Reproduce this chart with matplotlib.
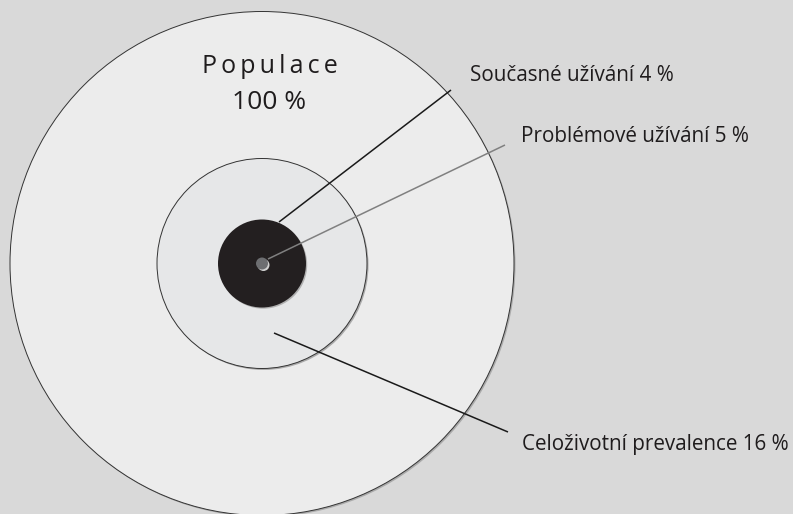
import matplotlib
matplotlib.use("Agg")
import matplotlib.pyplot as plt
from matplotlib.patches import Circle

plt.rcParams['font.family'] = ['Open Sans', 'DejaVu Sans']

# Data
categories = ["Populace", "Celoživotní prevalence", "Současné užívání", "Problémové užívání"]
values = [100, 16, 4, 5]
labels = [f"{c} {v} %" for c, v in zip(categories, values)]

W, H = 793, 514
fig = plt.figure(figsize=(W / 100, H / 100), dpi=100)
fig.patch.set_facecolor('#d9d9d9')
ax = fig.add_axes([0, 0, 1, 1])
ax.set_xlim(0, W)
ax.set_ylim(H, 0)
ax.set_aspect('equal')
ax.axis('off')

cx, cy = 262, 263.5

def circ(r, fc, ec='none', lw=0, z=1, dx=0, dy=0):
    ax.add_patch(Circle((cx + dx, cy + dy), r, facecolor=fc, edgecolor=ec, lw=lw, zorder=z))

# Big circle (population)
circ(252, '#aaaaaa', z=1, dx=1.5, dy=1.5)
circ(252, '#ececec', ec='#333333', lw=0.7, z=2)
# Lifetime prevalence
circ(105, '#aaaaaa', z=3, dx=1.5, dy=1.5)
circ(105, '#e6e7e8', ec='#333333', lw=0.7, z=4)
# Current use
circ(44, '#b0b0b0', z=5, dx=1.2, dy=1.2)
circ(44, '#231f20', z=6)
# Problem use
circ(6, '#d0d0d0', z=7, dx=1.5, dy=1.5)
circ(6, '#6d6e71', z=8)

# Leader lines
ax.plot([279, 451], [222, 90], color='#1a1a1a', lw=1.1, zorder=9, solid_capstyle='butt')
ax.plot([268, 505], [259, 145], color='#808080', lw=1.1, zorder=9, solid_capstyle='butt')
ax.plot([274, 508], [333, 432], color='#1a1a1a', lw=1.1, zorder=9, solid_capstyle='butt')

txt = '#1f1c1d'
fs = 14.9
ax.text(470, 81, labels[2], fontsize=fs, color=txt, ha='left', va='baseline', zorder=10)
ax.text(521, 142, labels[3], fontsize=fs, color=txt, ha='left', va='baseline', zorder=10)
ax.text(522, 450, labels[1], fontsize=fs, color=txt, ha='left', va='baseline', zorder=10)

ax.text(270, 73, "\u2009".join(categories[0]), fontsize=18, color=txt, ha='center', va='baseline', zorder=10)
ax.text(269, 109, f"{values[0]} %", fontsize=19, color=txt, ha='center', va='baseline', zorder=10)

fig.savefig('out.png', dpi=100, facecolor=fig.get_facecolor())
